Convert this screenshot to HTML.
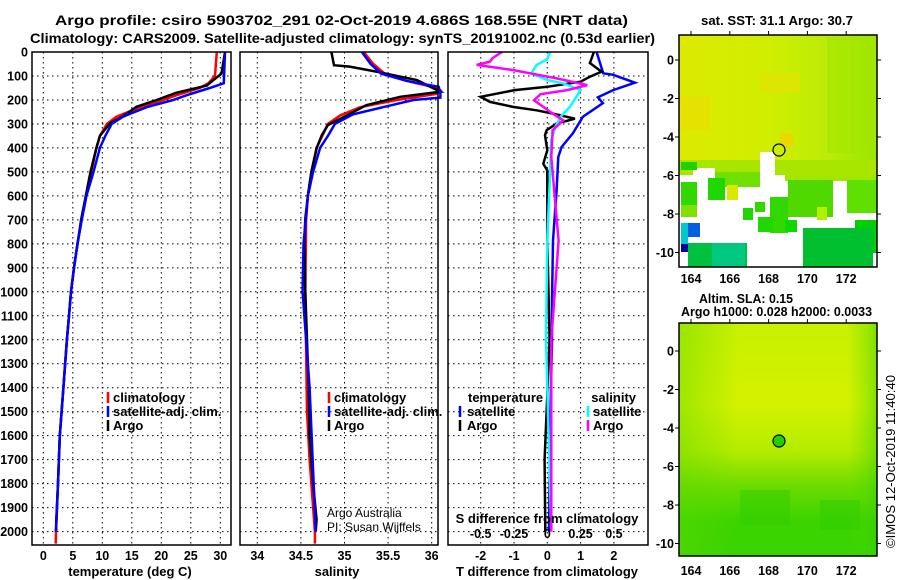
<!DOCTYPE html>
<html><head><meta charset="utf-8">
<style>
html,body{margin:0;padding:0;background:#fff;}
svg{display:block;font-family:"Liberation Sans",Arial,sans-serif;}
.tk{font-size:12.5px;font-weight:bold;fill:#000;}
.ti{font-size:14px;font-weight:bold;fill:#000;}
.lg{font-size:13px;font-weight:bold;fill:#000;}
</style></head>
<body>
<svg id="fig" width="900" height="580" viewBox="0 0 900 580" xmlns="http://www.w3.org/2000/svg">
<defs>
<linearGradient id="topBase" x1="0" y1="0" x2="1" y2="0">
<stop offset="0" stop-color="#dcea00"/><stop offset="0.45" stop-color="#d0ee00"/><stop offset="0.75" stop-color="#bcec08"/><stop offset="1" stop-color="#9ae600"/>
</linearGradient>
<linearGradient id="botV" x1="0" y1="0" x2="0" y2="1">
<stop offset="0" stop-color="#c8f000"/><stop offset="0.35" stop-color="#d4f200"/><stop offset="0.55" stop-color="#b4ec00"/><stop offset="0.7" stop-color="#6cdc00"/><stop offset="0.85" stop-color="#3cd400"/><stop offset="1" stop-color="#38d400"/>
</linearGradient>
<linearGradient id="botH" x1="0" y1="0" x2="1" y2="0">
<stop offset="0" stop-color="#60d800" stop-opacity="0.45"/><stop offset="0.3" stop-color="#60d800" stop-opacity="0"/><stop offset="0.85" stop-color="#60d800" stop-opacity="0"/><stop offset="1" stop-color="#30d000" stop-opacity="0.5"/>
</linearGradient>
</defs>

<!-- titles -->
<text class="ti" x="55" y="25" textLength="573" lengthAdjust="spacingAndGlyphs">Argo profile: csiro 5903702_291 02-Oct-2019 4.686S 168.55E (NRT data)</text>
<text class="ti" x="30" y="43" textLength="625" lengthAdjust="spacingAndGlyphs">Climatology: CARS2009. Satellite-adjusted climatology: synTS_20191002.nc (0.53d earlier)</text>

<g id="p1"></g>
<g id="p2"></g>
<g id="p3"></g>

<!-- top map -->
<g id="map1">
<rect x="679" y="35" width="198" height="232" fill="url(#topBase)"/>
<rect x="681" y="97" width="29" height="33" fill="#e6e200"/>
<rect x="760" y="73" width="40" height="20" fill="#dce600"/>
<rect x="780" y="133" width="13" height="14" fill="#ecd800"/>
<rect x="827" y="37" width="50" height="116" fill="#a4e600" opacity="0.6"/>
<rect x="679" y="160" width="198" height="20" fill="#a8e600"/>
<rect x="679" y="175" width="198" height="92" fill="#ffffff"/>
<rect x="760" y="152" width="15" height="23" fill="#ffffff"/>
<rect x="693" y="168" width="22" height="12" fill="#ffffff"/>
<rect x="681" y="162" width="16" height="8" fill="#20d000"/>
<rect x="715" y="172" width="45" height="15" fill="#70e000"/>
<rect x="785" y="175" width="92" height="6" fill="#a0e600"/>
<rect x="788" y="180" width="45" height="37" fill="#50d800"/>
<rect x="817" y="207" width="10" height="13" fill="#b0f000"/>
<rect x="847" y="180" width="30" height="33" fill="#60e000"/>
<rect x="681" y="182" width="16" height="31" fill="#30d800"/>
<rect x="681" y="205" width="16" height="12" fill="#80e000"/>
<rect x="708" y="178" width="17" height="22" fill="#20d800"/>
<rect x="727" y="185" width="11" height="15" fill="#d8e800"/>
<rect x="743" y="208" width="10" height="12" fill="#20d800"/>
<rect x="755" y="202" width="10" height="10" fill="#30d800"/>
<rect x="770" y="197" width="18" height="36" fill="#30d800"/>
<rect x="758" y="217" width="15" height="15" fill="#20d800"/>
<rect x="785" y="220" width="12" height="12" fill="#10d800"/>
<rect x="855" y="220" width="22" height="33" fill="#00d000"/>
<rect x="803" y="228" width="70" height="39" fill="#00c030"/>
<rect x="688" y="243" width="59" height="24" fill="#00c040"/>
<rect x="712" y="243" width="33" height="24" fill="#00c880"/>
<rect x="681" y="223" width="19" height="14" fill="#0060e0"/>
<rect x="681" y="223" width="7" height="27" fill="#00c8d0"/>
<rect x="681" y="244" width="7" height="8" fill="#0000a0"/>
<rect x="679" y="35" width="198" height="232" fill="none" stroke="#000" stroke-width="1.5"/>
<circle cx="779" cy="150" r="6" fill="#c8f000" stroke="#000" stroke-width="1.2"/>
</g>
<text class="ti" x="701" y="25" textLength="152" lengthAdjust="spacingAndGlyphs" style="font-size:13px">sat. SST: 31.1 Argo: 30.7</text>

<!-- bottom map -->
<g id="map2">
<rect x="679" y="323" width="198" height="233" fill="url(#botV)"/>
<rect x="679" y="323" width="198" height="233" fill="url(#botH)"/>
<rect x="740" y="490" width="50" height="35" fill="#30cc00" opacity="0.5"/>
<rect x="820" y="500" width="40" height="30" fill="#30cc00" opacity="0.5"/>
<rect x="679" y="323" width="198" height="233" fill="none" stroke="#000" stroke-width="1.5"/>
<circle cx="779" cy="441" r="6" fill="#20d000" stroke="#000" stroke-width="1.2"/>
</g>
<text class="ti" x="699" y="303" textLength="94" lengthAdjust="spacingAndGlyphs" style="font-size:13px">Altim. SLA: 0.15</text>
<text class="ti" x="681" y="316" textLength="191" lengthAdjust="spacingAndGlyphs" style="font-size:13px">Argo h1000: 0.028 h2000: 0.0033</text>
<text x="895" y="548" transform="rotate(-90 895 548)" style="font-size:13px" textLength="173" lengthAdjust="spacingAndGlyphs">©IMOS 12-Oct-2019 11:40:40</text>

<script>
// ---------- data ----------
const depthTicks = [0,100,200,300,400,500,600,700,800,900,1000,1100,1200,1300,1400,1500,1600,1700,1800,1900,2000];
const tempTicks = [0,5,10,15,20,25,30];
const salTicks = [34,34.5,35,35.5,36];
const salTickLabels = ["34","34.5","35","35.5","36"];
const dTTicks = [-2,-1,0,1,2];
const dSTicks = [-0.5,-0.25,0,0.25,0.5];
const dSTickLabels = ["-0.5","-0.25","0","0.25","0.5"];

const tDepthArgo = [0,90,140,170,200,228,268,297,350,400,500,600,700,800,900,1000,1100,1200,1400,1600,1800,1950,2000];
const tempArgo   = [30.8,30.2,27.7,22.5,19.2,15.8,13.5,11.3,9.6,9.0,8.0,7.2,6.4,5.8,5.2,4.7,4.35,4.0,3.4,2.8,2.5,2.2,2.15];
const tDepthClim = [0,100,130,150,180,200,230,270,300,350,400,500,600,700,800,900,1000,1100,1200,1400,1600,1800,2000,2050];
const tempClim   = [29.4,29.1,28.0,26.5,22.6,20.3,16.4,12.4,10.8,9.6,9.0,8.1,7.3,6.5,5.8,5.2,4.7,4.35,4.0,3.4,2.8,2.5,2.15,2.1];
const tDepthSat  = [0,130,150,180,200,230,270,300,350,400,500,600,700,800,900,1000,1100,1200,1400,1600,1800,2000];
const tempSat    = [30.8,30.6,28.2,24.3,22.0,17.5,13.5,11.6,10.5,9.6,8.5,7.3,6.5,5.8,5.2,4.7,4.35,4.0,3.4,2.8,2.5,2.15];

const sDepthArgo = [0,55,61,83,117,166,187,222,264,305,347,401,500,598,695,800,1000,1400,1600,1800,1950,2000];
const salArgo    = [34.85,34.88,35.06,35.38,35.83,36.1,35.64,35.25,35.03,34.81,34.74,34.68,34.62,34.58,34.55,34.54,34.55,34.59,34.6,34.64,34.68,34.67];
const sDepthClim = [0,50,90,120,145,160,175,200,230,265,300,400,500,600,700,1000,1500,1700,2000,2050];
const salClim    = [35.22,35.33,35.46,35.71,36.0,36.1,36.05,35.6,35.18,34.95,34.81,34.68,34.62,34.58,34.56,34.55,34.57,34.6,34.66,34.66];
const sDepthSat  = [0,50,90,120,145,170,190,200,230,260,300,350,400,500,600,800,1000,1400,2000];
const salSat     = [35.2,35.3,35.42,35.71,36.08,36.1,36.1,35.79,35.44,35.1,34.89,34.81,34.72,34.64,34.58,34.53,34.52,34.6,34.67];

const dDepthTA = [0,46,82,103,124,145,159,187,208,229,243,257,278,298,326,347,410,466,494,787,1200,1700,2000];
const dTArgo   = [1.4,1.28,1.63,1.28,1.0,0,-0.98,-2.0,-1.72,-1.03,-0.32,0.17,0.83,0.28,-0.02,-0.07,0,-0.12,0,0,0.07,-0.08,-0.06];
const dDepthTS = [0,89,95,128,159,189,213,270,339,396,438,577,787,1038,1205,1600,2000];
const dTSat    = [1.48,1.68,1.98,2.63,1.98,1.52,1.67,1.07,0.77,0.43,0.33,0.28,0.17,0.14,0.14,0.08,0.05];
const dDepthSA = [0,25,40,54,75,89,110,138,159,176,201,229,257,285,326,438,787,1200,2000];
const dSArgo   = [-0.34,-0.41,-0.43,-0.53,-0.26,-0.13,0.07,0.3,0.15,-0.05,-0.1,-0.03,0.04,0.12,0.04,0.03,0.085,0.03,0.03];
const dDepthSS = [0,30,54,89,117,131,159,194,229,270,312,368,508,787,1200,2000];
const dSSat    = [0.02,0,-0.08,-0.12,0,0.12,0.25,0.21,0.17,0.1,0.06,0.03,0.02,0,-0.01,0.03];

// ---------- scales ----------
const TOP = 52, BOT = 545;
const yD = d => TOP + d * 0.2398;
const xT = v => 43.3 + v * 5.9;
const xS = v => 257.3 + (v - 34) * 87.2;
const xDT = v => 547.3 + v * 33.3;
const xDS = v => 547.3 + v * 133.2;

const NS = "http://www.w3.org/2000/svg";
function mk(tag, attrs, parent) {
  const e = document.createElementNS(NS, tag);
  for (const k in attrs) e.setAttribute(k, attrs[k]);
  parent.appendChild(e);
  return e;
}

function panel(g, x0, x1, xTickVals, xs, name) {
  // grid
  depthTicks.forEach(d => {
    const l = mk('line', {x1: x0, x2: x1, y1: yD(d), y2: yD(d), stroke: '#000', 'stroke-width': 1, 'stroke-dasharray': '1.5,3.5'}, g);
    
    
  });
  xTickVals.forEach(v => {
    const l = mk('line', {x1: xs(v), x2: xs(v), y1: TOP, y2: BOT, stroke: '#000', 'stroke-width': 1, 'stroke-dasharray': '1.5,3.5'}, g);
    
    
  });
}
function frame(g, x0, x1, name) {
  const r = mk('rect', {x: x0, y: TOP, width: x1 - x0, height: BOT - TOP, fill: 'none', stroke: '#000', 'stroke-width': 1.5}, g);
  
  
}
function series(g, depths, vals, xs, color, name, w) {
  const pts = depths.map((d, i) => xs(vals[i]).toFixed(1) + ',' + yD(d).toFixed(1)).join(' ');
  const p = mk('polyline', {points: pts, fill: 'none', stroke: color, 'stroke-width': w || 2.5, 'stroke-linejoin': 'miter'}, g);
  
  
}
function text(g, x, y, s, cls, anchor, name, extra) {
  const t = mk('text', Object.assign({x: x, y: y, 'text-anchor': anchor || 'start'}, extra || {}), g);
  if (cls) t.setAttribute('class', cls);
  t.textContent = s;
  
  
  return t;
}
function legMark(g, x, y, color, name) {
  const l = mk('line', {x1: x, x2: x, y1: y - 10, y2: y + 1, stroke: color, 'stroke-width': 2.5}, g);
  
  
}

// panel 1
const g1 = document.getElementById('p1');
panel(g1, 32, 231, tempTicks, xT, 'temperature');
depthTicks.forEach(d => text(g1, 28, yD(d) + 4.5, String(d), 'tk', 'end', 'depth-tick-label'));
tempTicks.forEach(v => text(g1, xT(v), 560, String(v), 'tk', 'middle', 'temperature-tick-label'));
series(g1, tDepthClim, tempClim, xT, '#ff0000', 'temperature-climatology-line');
series(g1, tDepthArgo, tempArgo, xT, '#000000', 'temperature-argo-line');
series(g1, tDepthSat, tempSat, xT, '#0000ff', 'temperature-satellite-line');
frame(g1, 32, 231, 'temperature');
text(g1, 130, 576, 'temperature (deg C)', 'tk', 'middle', 'temperature-axis-title', {style: 'font-size:13px'});
legMark(g1, 108, 402, '#ff0000', 'legend-marker-climatology');
legMark(g1, 108, 416, '#0000ff', 'legend-marker-satellite');
legMark(g1, 108, 430, '#000000', 'legend-marker-argo');
text(g1, 113, 402, 'climatology', 'lg', 'start', 'legend-climatology');
text(g1, 113, 416, 'satellite-adj. clim.', 'lg', 'start', 'legend-satellite');
text(g1, 113, 430, 'Argo', 'lg', 'start', 'legend-argo');

// panel 2
const g2 = document.getElementById('p2');
panel(g2, 240, 438, salTicks, xS, 'salinity');
salTicks.forEach((v, i) => text(g2, xS(v), 560, salTickLabels[i], 'tk', 'middle', 'salinity-tick-label'));
series(g2, sDepthClim, salClim, xS, '#ff0000', 'salinity-climatology-line');
series(g2, sDepthArgo, salArgo, xS, '#000000', 'salinity-argo-line');
series(g2, sDepthSat, salSat, xS, '#0000ff', 'salinity-satellite-line');
frame(g2, 240, 438, 'salinity');
text(g2, 337, 576, 'salinity', 'tk', 'middle', 'salinity-axis-title', {style: 'font-size:13px'});
legMark(g2, 329, 402, '#ff0000', 'legend-marker-climatology');
legMark(g2, 329, 416, '#0000ff', 'legend-marker-satellite');
legMark(g2, 329, 430, '#000000', 'legend-marker-argo');
text(g2, 334, 402, 'climatology', 'lg', 'start', 'legend-climatology');
text(g2, 334, 416, 'satellite-adj. clim.', 'lg', 'start', 'legend-satellite');
text(g2, 334, 430, 'Argo', 'lg', 'start', 'legend-argo');
text(g2, 327, 517, 'Argo Australia', null, 'start', 'credit-argo-australia', {style: 'font-size:12px'});
text(g2, 327, 531, 'PI: Susan Wijffels', null, 'start', 'credit-pi', {style: 'font-size:12px'});

// panel 3
const g3 = document.getElementById('p3');
panel(g3, 448, 648, dTTicks, xDT, 'difference');
dTTicks.forEach(v => text(g3, xDT(v), 560, String(v), 'tk', 'middle', 't-diff-tick-label'));
series(g3, dDepthTS, dTSat, xDT, '#0000ff', 't-diff-satellite-line');
series(g3, dDepthTA, dTArgo, xDT, '#000000', 't-diff-argo-line');
series(g3, dDepthSS, dSSat, xDS, '#00ffff', 's-diff-satellite-line');
series(g3, dDepthSA, dSArgo, xDS, '#ff00ff', 's-diff-argo-line');
frame(g3, 448, 648, 'difference');
text(g3, 547, 576, 'T difference from climatology', 'tk', 'middle', 't-diff-axis-title', {style: 'font-size:13px'});
text(g3, 547, 523, 'S difference from climatology', 'tk', 'middle', 's-diff-axis-title', {style: 'font-size:13px'});
dSTicks.forEach((v, i) => text(g3, xDS(v), 538, dSTickLabels[i], 'tk', 'middle', 's-diff-tick-label'));
text(g3, 468, 402, 'temperature', 'lg', 'start', 'legend-temperature-header');
legMark(g3, 460, 416, '#0000ff', 'legend-marker-t-satellite');
legMark(g3, 460, 430, '#000000', 'legend-marker-t-argo');
text(g3, 467, 416, 'satellite', 'lg', 'start', 'legend-t-satellite');
text(g3, 467, 430, 'Argo', 'lg', 'start', 'legend-t-argo');
text(g3, 636, 402, 'salinity', 'lg', 'end', 'legend-salinity-header');
legMark(g3, 588, 416, '#00ffff', 'legend-marker-s-satellite');
legMark(g3, 588, 430, '#ff00ff', 'legend-marker-s-argo');
text(g3, 593, 416, 'satellite', 'lg', 'start', 'legend-s-satellite');
text(g3, 593, 430, 'Argo', 'lg', 'start', 'legend-s-argo');

// map axes
const lonTicks = [164,166,168,170,172];
const latTicks = [0,-2,-4,-6,-8,-10];
const xLon = v => 691 + (v - 164) * 19.4;
const fig = document.getElementById('fig');
[[60, 267, 283, 'sst'], [351, 556, 575, 'sla']].forEach(([lat0y, bot, lab, nm]) => {
  const top = nm === 'sst' ? 35 : 323;
  lonTicks.forEach(v => {
    text(fig, xLon(v), lab, String(v), 'tk', 'middle', nm + '-lon-tick-label');
    const t = mk('line', {x1: xLon(v), x2: xLon(v), y1: top - 4, y2: top, stroke: '#000', 'stroke-width': 1}, fig);
    
    
  });
  latTicks.forEach(v => {
    const y = lat0y - v * 19.25;
    text(fig, 674, y + 4.5, String(v), 'tk', 'end', nm + '-lat-tick-label');
    const t = mk('line', {x1: 675, x2: 679, y1: y, y2: y, stroke: '#000', 'stroke-width': 1}, fig);
    
    
    const t2 = mk('line', {x1: 877, x2: 881, y1: y, y2: y, stroke: '#000', 'stroke-width': 1}, fig);
    
    
  });
});
</script>
</svg>
</body></html>
